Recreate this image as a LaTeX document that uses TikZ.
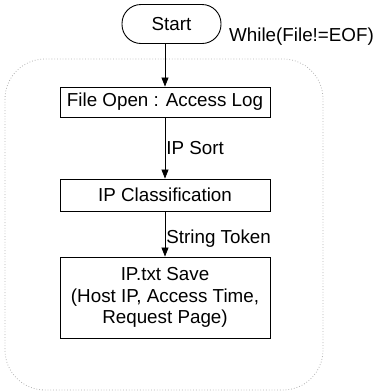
\documentclass[tikz,border=0pt]{standalone}
\usepackage{fontspec}
\setmainfont{Liberation Sans}
\usetikzlibrary{arrows.meta}
\begin{document}
\begin{tikzpicture}[x=1pt,y=-1pt,
  every node/.style={font=\fontsize{18.8}{21.5}\selectfont},
  procbox/.style={draw,line width=0.9pt,minimum width=210pt,align=center,inner sep=0pt},
  flow/.style={draw,line width=0.8pt,-{Triangle[length=9pt,width=7pt]}},
  lbl/.style={anchor=west,inner sep=1pt}]
\useasboundingbox (0,0) rectangle (379,392);
% loop region
\draw[gray!60,dotted,line width=0.8pt,rounded corners=40pt] (5,59) rectangle (323,390);
% terminal
\node[draw,line width=0.9pt,rounded corners=19pt,minimum width=99pt,minimum height=39pt,inner sep=0pt] (start) at (171.5,24) {Start};
\node[anchor=west,inner sep=0pt] (cond) at (229,37) {While(File!=EOF)};
% process steps
\node[procbox,minimum height=30pt] (open) at (165,102) {File Open : Access Log};
\node[procbox,minimum height=32pt] (cls) at (165,195) {IP Classification};
\node[procbox,minimum height=81pt] (save) at (165,297.5) {IP.txt Save\\(Host IP, Access Time,\\Request Page)};
% connectors
\draw[flow] (start.south -| open.north) -- (open.north);
\draw[flow] (open) -- node[lbl,pos=0.5] {IP Sort} (cls);
\draw[flow] (cls) -- node[lbl,pos=0.6] {String Token} (save);
\end{tikzpicture}
\end{document}
